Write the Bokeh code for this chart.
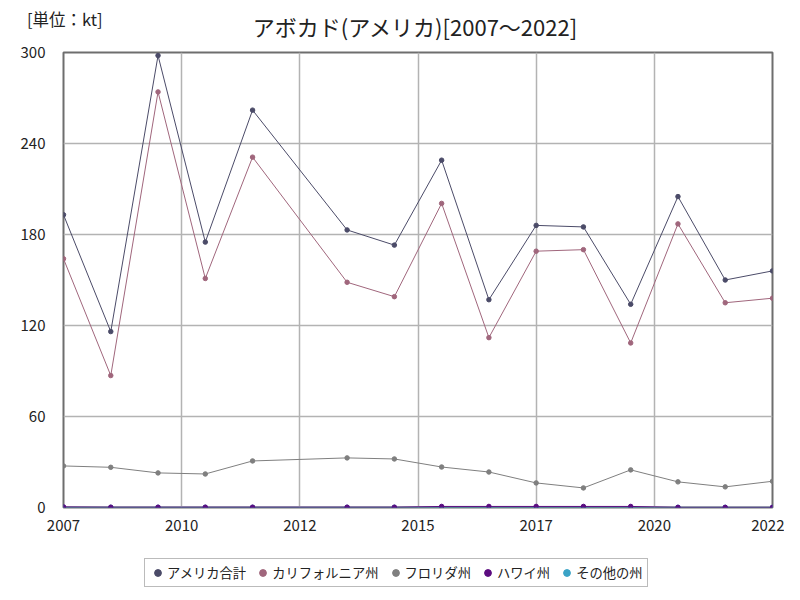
from bokeh.plotting import figure
from bokeh.models import Range1d, FixedTicker, Legend, LegendItem, Label
from bokeh.layouts import column
from bokeh.embed import file_html
from bokeh.resources import INLINE

years = [2007, 2008, 2009, 2010, 2011, 2013, 2014, 2015, 2016, 2017, 2018, 2019, 2020, 2021, 2022]
usa_total = [193, 116, 298, 175, 262, 183, 173, 229, 137, 186, 185, 134, 205, 150, 156]
california = [164, 87, 274, 151, 231, 148.5, 139, 200.5, 112, 169, 170, 108.5, 187, 135, 138]
florida = [27.4, 26.5, 22.8, 22.1, 30.7, 32.7, 32.0, 26.7, 23.4, 16.2, 12.9, 24.8, 16.9, 13.6, 17.3]
hawaii = [0.4, 0.2, 0.2, 0.2, 0.2, 0.2, 0.2, 0.7, 0.7, 0.7, 0.7, 0.7, 0.1, 0.1, 0.1]
others = [0.1, 0.1, 0.1, 0.1, 0.1, 0.1, 0.1, 0.1, 0.1, 0.1, 0.1, 0.1, 0.1, 0.1, 0.1]

series_names = ["アメリカ合計", "カリフォルニア州", "フロリダ州", "ハワイ州", "その他の州"]
series_colors = ["#4b4b68", "#a0667c", "#7f7f7f", "#5c0c80", "#3aa3c6"]

x_ticks = [2007, 2009.5, 2012, 2014.5, 2017, 2019.5, 2022]
x_tick_labels = ["2007", "2010", "2012", "2015", "2017", "2020", "2022"]
y_ticks = [0, 60, 120, 180, 240, 300]

title_text = "アボカド(アメリカ)[2007～2022]"
unit_text = "[単位：kt]"

JP = "Noto Sans CJK JP"
W = 784
LEFT, RIGHT = 63, 12          # frame borders shared by all stacked figures
HEAD_H, FOOT_H = 41, 52

# ---- header: title (inside frame) and unit (as a left-axis label) ----
head = figure(width=W, height=HEAD_H, output_backend="svg", toolbar_location=None,
              x_range=Range1d(LEFT, W - RIGHT), y_range=Range1d(0, HEAD_H),
              min_border_left=LEFT, min_border_right=RIGHT, min_border_top=0, min_border_bottom=0,
              x_axis_location=None)
head.outline_line_color = None
head.grid.visible = False
head.yaxis.ticker = FixedTicker(ticks=[HEAD_H - 18])
head.yaxis.major_label_overrides = {HEAD_H - 18: unit_text}
head.yaxis.axis_line_color = None
head.yaxis.major_tick_line_color = None
head.yaxis.minor_tick_line_color = None
head.yaxis.major_label_text_font = JP
head.yaxis.major_label_text_font_size = "16.5px"
head.yaxis.major_label_text_color = "#222222"
head.yaxis.major_label_standoff = -45
head.add_layout(Label(x=415, y=HEAD_H - 25, text=title_text, text_font=JP, text_font_size="22px",
                      text_align="center", text_baseline="middle", text_color="#222222"))

# ---- main chart ----
p = figure(width=W, height=507, output_backend="svg", toolbar_location=None,
           x_range=Range1d(2007, 2022), y_range=Range1d(0, 300),
           min_border_left=LEFT, min_border_right=RIGHT, min_border_top=11, min_border_bottom=41)
p.outline_line_color = "#6e6e6e"
p.outline_line_width = 2

p.xaxis.ticker = FixedTicker(ticks=x_ticks)
p.xaxis.major_label_overrides = {t: l for t, l in zip(x_ticks, x_tick_labels)}
p.yaxis.ticker = FixedTicker(ticks=y_ticks)
for ax in (p.xaxis, p.yaxis):
    ax.axis_line_color = None
    ax.major_tick_line_color = None
    ax.minor_tick_line_color = None
    ax.major_label_text_font = JP
    ax.major_label_text_font_size = "15px"
    ax.major_label_text_color = "#222222"
p.xaxis.major_label_standoff = 6
p.yaxis.major_label_standoff = 12

p.xgrid.ticker = FixedTicker(ticks=x_ticks)
p.ygrid.ticker = FixedTicker(ticks=y_ticks)
for g in (p.xgrid, p.ygrid):
    g.grid_line_color = "#b3b3b3"
    g.grid_line_width = 1.5

all_series = [usa_total, california, florida, others, hawaii]
order_colors = [series_colors[0], series_colors[1], series_colors[2], series_colors[4], series_colors[3]]
for vals, col in zip(all_series, order_colors):
    p.line(years, vals, line_color=col, line_width=1)
    p.scatter(years, vals, size=4.5, fill_color=col, line_color=col)

# ---- footer: legend ----
foot = figure(width=W, height=FOOT_H, output_backend="svg", toolbar_location=None,
              x_range=Range1d(0, 1), y_range=Range1d(0, 1),
              min_border_left=LEFT, min_border_right=RIGHT, min_border_top=0, min_border_bottom=0,
              x_axis_location=None, y_axis_location=None)
foot.outline_line_color = None
foot.grid.visible = False
items = []
nan = float("nan")
for name, col in zip(series_names, series_colors):
    r = foot.scatter(x=[nan], y=[nan], size=7, fill_color=col, line_color=col)
    items.append(LegendItem(label=name, renderers=[r]))
legend = Legend(items=items, orientation="horizontal", location=(81, 13))
legend.label_text_font = JP
legend.label_text_font_size = "13.3px"
legend.label_text_color = "#222222"
legend.glyph_width = 17
legend.glyph_height = 17
legend.label_standoff = 1
legend.spacing = 8
legend.padding = 4
legend.margin = 0
legend.label_height = 19
legend.border_line_color = "#777777"
legend.border_line_width = 1.5
legend.background_fill_alpha = 1
foot.add_layout(legend, "center")

layout = column(head, p, foot, spacing=0)
open("out.html", "w").write(file_html(layout, INLINE))
